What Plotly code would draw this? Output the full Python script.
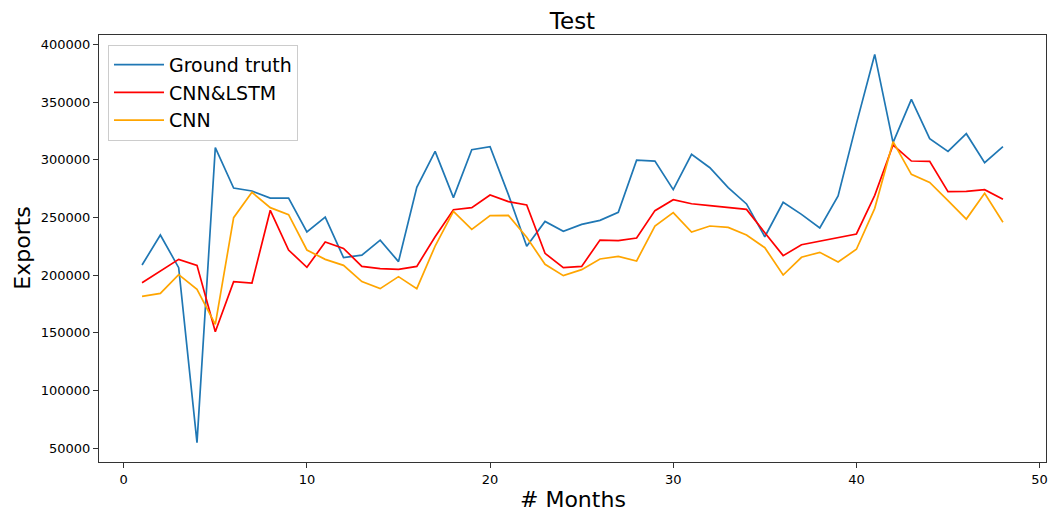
import plotly.graph_objects as go

# Month index for each observation
months = [1, 2, 3, 4, 5, 6, 7, 8, 9, 10, 11, 12, 13, 14, 15, 16,
          17, 18, 19, 20, 21, 22, 23, 24, 25, 26, 27, 28, 29, 30, 31, 32,
          33, 34, 35, 36, 37, 38, 39, 40, 41, 42, 43, 44, 45, 46, 47, 48]

ground_truth = [208800, 234800, 206500, 54900, 310500, 275500, 272900, 266800,
                266800, 237400, 250300, 215200, 217400, 230400, 211700, 276100,
                307300, 267200, 308700, 311300, 269800, 225000, 246600, 238000,
                244000, 247500, 254400, 299700, 298900, 274100, 304700, 293100,
                275800, 261700, 233300, 263100, 252700, 240900, 268600, 331300,
                391300, 314800, 352300, 318300, 307300, 322600, 297500, 311300]

cnn_lstm = [193500, 203300, 213700, 208500, 151000, 194400, 193200, 256200,
            221800, 206800, 228700, 223200, 207600, 205600, 205000, 207600,
            233300, 256700, 258500, 269500, 263700, 260800, 218900, 206500,
            207600, 230400, 229900, 232200, 255900, 265400, 261900, 260200,
            258800, 257000, 236800, 216900, 226400, 229300, 232500, 235700,
            269200, 312800, 298900, 298600, 272400, 272600, 274100, 265700]

cnn = [181600, 184200, 200400, 187700, 157400, 249800, 271800, 258500,
       252400, 221800, 213700, 208500, 194400, 188300, 198700, 188300,
       225200, 255300, 239700, 251600, 251800, 232800, 209400, 199600,
       204800, 214000, 216300, 212300, 242600, 254200, 237400, 242600,
       241400, 234800, 223800, 200100, 215500, 219800, 211400, 222400,
       257900, 315700, 287400, 280400, 264600, 248600, 270900, 245800]

series = [
    ("Ground truth", ground_truth, "#1f77b4"),
    ("CNN&LSTM", cnn_lstm, "#ff0000"),
    ("CNN", cnn, "#ffa500"),
]

y_ticks = [50000, 100000, 150000, 200000, 250000, 300000, 350000, 400000]
x_ticks = [0, 10, 20, 30, 40, 50]

fig = go.Figure()
for name, values, color in series:
    fig.add_trace(go.Scatter(
        x=months, y=values, mode="lines", name=name,
        line=dict(color=color, width=1.7),
    ))

# 5% padding around the data, like the default autoscale margins
all_vals = ground_truth + cnn_lstm + cnn
ylo, yhi = min(all_vals), max(all_vals)
ypad = (yhi - ylo) * 0.05
xlo, xhi = min(months), max(months)
xpad = (xhi - xlo) * 0.05

font = "DejaVu Sans"
axis_common = dict(
    showline=True, linecolor="#333333", linewidth=1, mirror=True,
    showgrid=False, zeroline=False,
    ticks="outside", ticklen=5, tickwidth=1, tickcolor="#333333",
    tickfont=dict(family=font, size=13, color="black"),
)

fig.update_layout(
    width=1051, height=512,
    margin=dict(l=99, r=3, t=35, b=50),
    paper_bgcolor="white", plot_bgcolor="white",
    font=dict(family=font, color="black"),
    title=dict(text="Test", x=0.5, xref="paper", xanchor="center",
               y=1 - 21 / 512, yref="container", yanchor="middle",
               font=dict(family=font, size=23, color="black")),
    showlegend=True,
    legend=dict(
        x=0.0095, y=0.977, xanchor="left", yanchor="top",
        bgcolor="white", bordercolor="#cccccc", borderwidth=1,
        font=dict(family=font, size=19, color="black"),
        tracegroupgap=0, itemwidth=50,
    ),
    xaxis=dict(range=[xlo - xpad, xhi + xpad], tickvals=x_ticks, **axis_common),
    yaxis=dict(range=[ylo - ypad, yhi + ypad], tickvals=y_ticks,
               tickformat="d", **axis_common),
    annotations=[
        dict(text="# Months", xref="paper", yref="paper", x=0.5,
             y=-(499 - 462) / 427, xanchor="center", yanchor="middle",
             showarrow=False, font=dict(family=font, size=22, color="black")),
        dict(text="Exports", xref="paper", yref="paper", x=-(99 - 22) / 949,
             y=0.5, xanchor="center", yanchor="middle", textangle=-90,
             showarrow=False, font=dict(family=font, size=22, color="black")),
    ],
)

fig.write_html("out.html")
